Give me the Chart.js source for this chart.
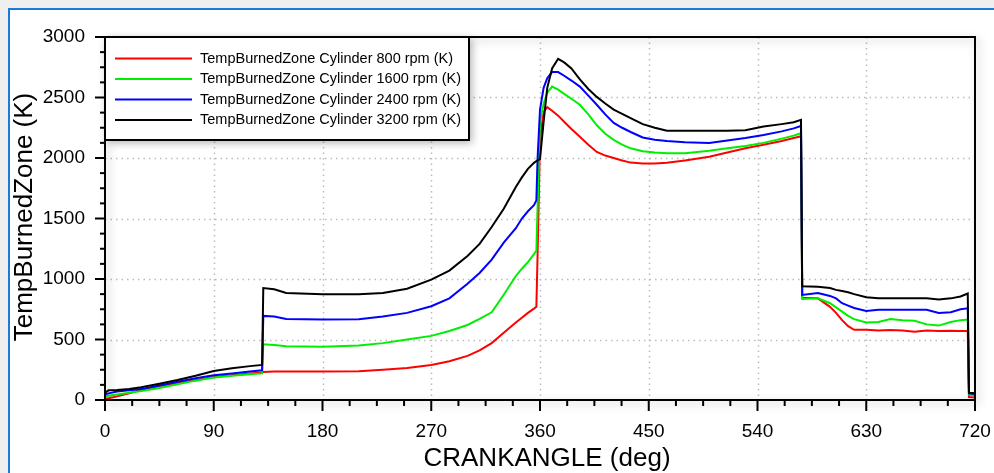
<!DOCTYPE html>
<html>
<head>
<meta charset="utf-8">
<script src="https://cdn.jsdelivr.net/npm/chart.js@4.4.0/dist/chart.umd.min.js"></script>
<style>
  html, body { margin: 0; padding: 0; background: #efefef; }
  #wrap { width: 994px; height: 473px; }
</style>
</head>
<body>
<div id="wrap"><canvas id="myChart" width="994" height="473"></canvas></div>
<script>
// crank angle (deg), shared by all four series
const crankAngle = [0, 3, 10, 20, 30, 45, 60, 75, 90, 105, 120, 130,
  131, 140, 150, 180, 210, 230, 250, 270, 285, 300, 310, 320,
  330, 340, 345, 350, 355, 357, 358, 360, 363, 366, 370, 375,
  380, 386, 393, 400, 407, 414, 421, 428, 435, 445, 455, 465,
  480, 500, 515, 530, 545, 560, 570, 576, 577, 590, 600, 605,
  610, 615, 620, 630, 640, 650, 660, 670, 680, 690, 700, 708,
  714, 715, 720];

// burned zone temperature (K)
const temp800 = [10, 15, 30, 55, 85, 115, 140, 165, 190, 205, 220, 228,
  232, 235, 235, 235, 238, 250, 265, 290, 320, 365, 410, 470,
  555, 640, 680, 720, 755, 770, 1200, 2150, 2380, 2420, 2390, 2350,
  2300, 2240, 2175, 2110, 2050, 2020, 2000, 1980, 1962, 1955, 1955, 1960,
  1980, 2010, 2045, 2080, 2110, 2140, 2165, 2180, 845, 840, 770, 720,
  660, 610, 580, 580, 575, 578, 575, 565, 575, 570, 572, 570,
  570, 25, 20];
const temp1600 = [30, 35, 45, 60, 75, 100, 130, 160, 185, 200, 212, 220,
  460, 455, 445, 440, 450, 470, 500, 530, 570, 620, 670, 725,
  870, 1025, 1085, 1140, 1205, 1235, 1600, 2300, 2450, 2540, 2590, 2565,
  2530, 2490, 2440, 2360, 2270, 2200, 2150, 2110, 2080, 2055, 2045, 2040,
  2040, 2060, 2080, 2100, 2125, 2160, 2185, 2205, 835, 840, 800, 765,
  730, 695, 668, 640, 645, 670, 660, 655, 625, 615, 645, 660,
  665, 45, 40];
const temp2400 = [45, 55, 70, 80, 90, 120, 150, 180, 205, 220, 235, 245,
  695, 690, 670, 665, 668, 690, 720, 775, 840, 960, 1050, 1160,
  1300, 1420, 1500, 1560, 1610, 1650, 2000, 2400, 2580, 2660, 2710, 2710,
  2680, 2640, 2590, 2515, 2440, 2360, 2290, 2250, 2215, 2170, 2150, 2140,
  2130, 2125, 2145, 2165, 2190, 2220, 2245, 2265, 868, 885, 860, 840,
  800, 780, 760, 736, 745, 745, 745, 745, 745, 720, 725, 750,
  758, 55, 50];
const temp3200 = [60, 80, 82, 90, 105, 135, 165, 200, 240, 262, 280, 290,
  925, 915, 885, 875, 875, 885, 920, 995, 1070, 1190, 1290, 1430,
  1580, 1760, 1840, 1910, 1960, 1975, 1980, 1990, 2300, 2580, 2740, 2820,
  2790, 2740, 2650, 2570, 2505, 2450, 2400, 2365, 2330, 2280, 2250, 2225,
  2225, 2225, 2225, 2230, 2260, 2280, 2295, 2315, 940, 935, 925, 910,
  900, 890, 875, 850, 840, 840, 840, 840, 840, 830, 840, 855,
  880, 60, 55];

const seriesLabels = [
  "TempBurnedZone Cylinder 800 rpm (K)",
  "TempBurnedZone Cylinder 1600 rpm (K)",
  "TempBurnedZone Cylinder 2400 rpm (K)",
  "TempBurnedZone Cylinder 3200 rpm (K)"
];
const seriesColors = ["#ff0000", "#00ee00", "#0000ff", "#000000"];

const xTickValues = [0, 90, 180, 270, 360, 450, 540, 630, 720];
const yTickValues = [0, 500, 1000, 1500, 2000, 2500, 3000];
const xTitle = "CRANKANGLE (deg)";
const yTitle = "TempBurnedZone (K)";

const fontFamily = "'Liberation Sans', Arial, sans-serif";

function toPoints(values) {
  return crankAngle.map((a, i) => ({ x: a, y: values[i] }));
}

// frame, dotted grid, outward ticks, legend box and axis titles
const plotDecor = {
  id: "plotDecor",
  beforeDraw(chart) {
    const ctx = chart.ctx;
    ctx.save();
    ctx.fillStyle = "#efefef";
    ctx.fillRect(0, 0, chart.width, chart.height);
    ctx.fillStyle = "#ffffff";
    ctx.fillRect(9, 9, chart.width, chart.height);
    ctx.strokeStyle = "#1c7cd5";
    ctx.lineWidth = 2;
    ctx.beginPath();
    ctx.moveTo(9, chart.height);
    ctx.lineTo(9, 9);
    ctx.lineTo(chart.width, 9);
    ctx.stroke();
    ctx.restore();
  },
  beforeDatasetsDraw(chart) {
    const { ctx, chartArea: a, scales: { x, y } } = chart;
    ctx.save();
    ctx.strokeStyle = "#bcbcbc";
    ctx.lineWidth = 1.5;
    ctx.setLineDash([1.5, 4]);
    xTickValues.slice(1, -1).forEach(v => {
      const px = Math.round(x.getPixelForValue(v)) + 0.5;
      ctx.beginPath(); ctx.moveTo(px, a.top); ctx.lineTo(px, a.bottom); ctx.stroke();
    });
    yTickValues.slice(1, -1).forEach(v => {
      const py = Math.round(y.getPixelForValue(v)) + 0.5;
      ctx.beginPath(); ctx.moveTo(a.left, py); ctx.lineTo(a.right, py); ctx.stroke();
    });
    ctx.restore();
  },
  afterDatasetsDraw(chart) {
    const { ctx, chartArea: a, scales: { x, y } } = chart;
    ctx.save();

    // plot frame
    ctx.shadowColor = "rgba(0,0,0,0.25)";
    ctx.shadowBlur = 8;
    ctx.shadowOffsetX = 3;
    ctx.shadowOffsetY = 3;
    ctx.strokeStyle = "#000";
    ctx.lineWidth = 2;
    ctx.strokeRect(a.left, a.top, a.right - a.left, a.bottom - a.top);
    ctx.shadowColor = "transparent";

    // ticks
    ctx.lineWidth = 2;
    for (let v = 0; v <= 720; v += 22.5) {
      const px = x.getPixelForValue(v);
      const len = xTickValues.includes(v) ? 11 : 6;
      ctx.beginPath(); ctx.moveTo(px, a.bottom); ctx.lineTo(px, a.bottom + len); ctx.stroke();
    }
    for (let v = 0; v <= 3000; v += 125) {
      const py = y.getPixelForValue(v);
      const len = yTickValues.includes(v) ? 10 : 5;
      ctx.beginPath(); ctx.moveTo(a.left, py); ctx.lineTo(a.left - len, py); ctx.stroke();
    }

    // legend box
    const lx = a.left, ly = a.top, lw = 364, lh = 103;
    ctx.shadowColor = "rgba(0,0,0,0.3)";
    ctx.shadowBlur = 8;
    ctx.shadowOffsetX = 3;
    ctx.shadowOffsetY = 3;
    ctx.fillStyle = "#fff";
    ctx.fillRect(lx, ly, lw, lh);
    ctx.shadowColor = "transparent";
    ctx.strokeRect(lx, ly, lw, lh);

    ctx.font = "14.5px " + fontFamily;
    ctx.textBaseline = "middle";
    ctx.textAlign = "left";
    seriesLabels.forEach((lab, i) => {
      const ty = ly + 21.5 + i * 20.5;
      ctx.strokeStyle = seriesColors[i];
      ctx.lineWidth = 2;
      ctx.beginPath(); ctx.moveTo(lx + 10, ty); ctx.lineTo(lx + 87, ty); ctx.stroke();
      ctx.fillStyle = "#000";
      ctx.fillText(lab, lx + 95, ty);
    });

    // axis titles
    ctx.fillStyle = "#000";
    ctx.font = "26px " + fontFamily;
    ctx.textAlign = "center";
    ctx.textBaseline = "alphabetic";
    ctx.fillText(xTitle, 547, 466);
    ctx.save();
    ctx.translate(32, 217);
    ctx.rotate(-Math.PI / 2);
    ctx.fillText(yTitle, 0, 0);
    ctx.restore();

    ctx.restore();
  }
};

const datasets = [temp800, temp1600, temp2400, temp3200].map((vals, i) => ({
  label: seriesLabels[i],
  data: toPoints(vals),
  borderColor: seriesColors[i],
  backgroundColor: seriesColors[i],
  borderWidth: 2,
  pointRadius: 0,
  tension: 0,
  order: 3 - i
}));

const tickFont = { family: fontFamily, size: 19 };

new Chart(document.getElementById("myChart"), {
  type: "line",
  data: { datasets: datasets },
  options: {
    responsive: false,
    animation: false,
    devicePixelRatio: 1,
    layout: { padding: { top: 37, right: 19, left: 0, bottom: 0 } },
    plugins: { legend: { display: false }, tooltip: { enabled: false } },
    scales: {
      x: {
        type: "linear",
        min: 0,
        max: 720,
        afterBuildTicks: s => { s.ticks = xTickValues.map(v => ({ value: v })); },
        afterFit: s => { s.height = 73; s.paddingLeft = 0; s.paddingRight = 0; },
        grid: { display: false },
        border: { display: false },
        ticks: { autoSkip: false, maxRotation: 0, padding: 12, color: "#000", font: tickFont, callback: v => String(v) }
      },
      y: {
        type: "linear",
        min: 0,
        max: 3000,
        afterBuildTicks: s => { s.ticks = yTickValues.map(v => ({ value: v })); },
        afterFit: s => { s.width = 105; s.paddingTop = 0; s.paddingBottom = 0; },
        grid: { display: false },
        border: { display: false },
        ticks: { autoSkip: false, padding: 12, color: "#000", font: tickFont, callback: v => String(v) }
      }
    }
  },
  plugins: [plotDecor]
});
</script>
</body>
</html>
